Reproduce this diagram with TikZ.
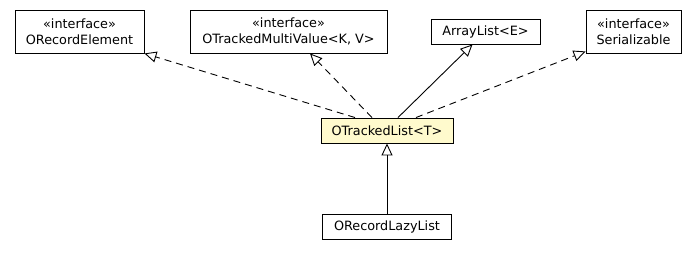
\documentclass[tikz,border=0pt]{standalone}
\usepackage{fontspec}
\setmainfont{DejaVu Sans}
\usetikzlibrary{arrows.meta,positioning}
\definecolor{chiffon}{HTML}{FFFACD}
\definecolor{ink}{HTML}{000000}

\begin{document}
\begin{tikzpicture}[x=1pt,y=1pt,text=ink,font=\fontsize{12.8}{16}\selectfont,cls/.style={draw=ink,fill=white,line width=0.9pt,inner sep=0pt,align=center,minimum height=25pt},iface/.style={cls,minimum height=43pt},realize/.style={-{Triangle[open,length=12pt,width=11pt,fill=white]},dash pattern=on 7pt off 5pt,line width=0.9pt},extend/.style={-{Triangle[open,length=12pt,width=11pt,fill=white]},line width=0.9pt}]
 \useasboundingbox (0,0) rectangle (697,256);
 \node[iface,minimum width=129pt] (recelem) at (79.5,224.5) {«interface»\\ORecordElement};
 \node[iface,minimum width=197pt] (multi) at (288.5,224.5) {«interface»\\OTrackedMultiValue<K, V>};
 \node[cls,minimum width=109pt] (alist) at (485.5,224.5) {ArrayList<E>};
 \node[iface,minimum width=95pt] (serial) at (633.5,224.5) {«interface»\\Serializable};
 \node[cls,fill=chiffon,minimum width=132pt] (tlist) at (387,125.5) {OTrackedList<T>};
 \node[cls,minimum width=129pt,below=71pt of tlist] (lazy) {ORecordLazyList};
 \draw[realize] ([xshift=-32pt]tlist.north)--(recelem.south east);
 \draw[realize] ([xshift=-15pt]tlist.north)--([xshift=21.5pt]multi.south);
 \draw[extend] ([xshift=11pt]tlist.north)--([xshift=-13pt]alist.south);
 \draw[realize] ([xshift=29pt]tlist.north)--([yshift=2pt]serial.south west);
 \draw[extend] (lazy)--(tlist);
\end{tikzpicture}
\end{document}
